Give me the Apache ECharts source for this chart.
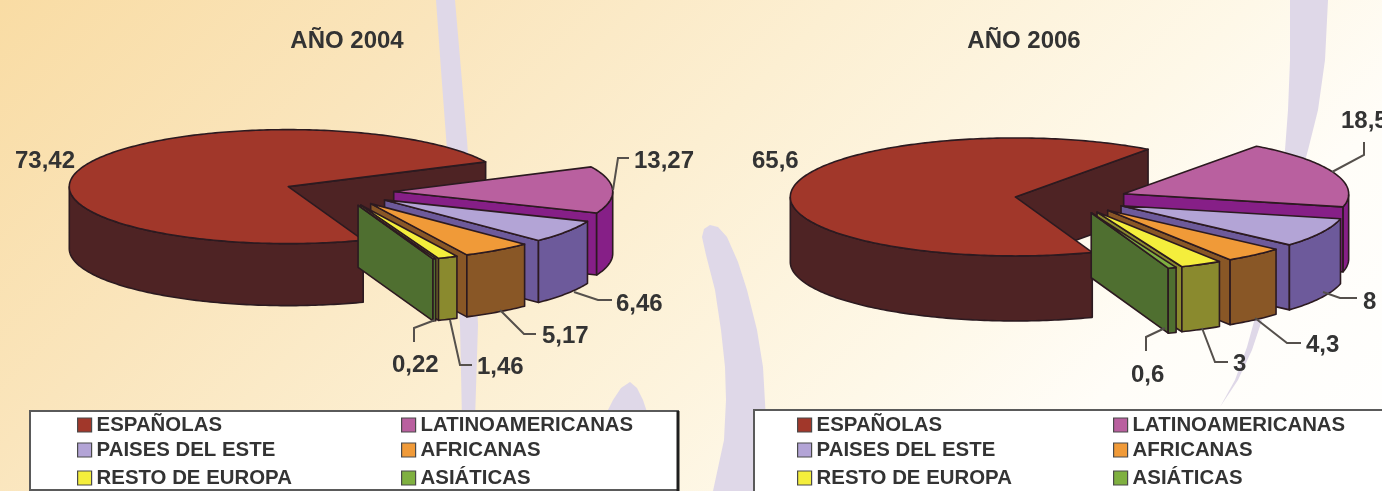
<!DOCTYPE html>
<html>
<head>
<meta charset="utf-8">
<title>Año 2004 / Año 2006</title>
<style>
  html, body { margin: 0; padding: 0; background: #fff; }
  #main { width: 1382px; height: 491px; }
</style>
<script src="https://cdn.jsdelivr.net/npm/echarts@6/dist/echarts.min.js"></script>
</head>
<body>
<div id="main"></div>
<script>
const categories = ['ESPAÑOLAS', 'LATINOAMERICANAS', 'PAISES DEL ESTE', 'AFRICANAS', 'RESTO DE EUROPA', 'ASIÁTICAS'];
const values2004 = [73.42, 13.27, 6.46, 5.17, 1.46, 0.22];
const values2006 = [65.6, 18.5, 8, 4.3, 3, 0.6];

const topColors = ['#a1372a', '#b9609f', '#b3a4d6', '#f09a38', '#f4ee3c', '#7fb040'];
const wallColors = ['#4e2324', '#861f87', '#6d5a9b', '#895726', '#8a8a2e', '#4f6f30'];
const edgeColor = '#2c1a20';
const leaderColor = '#55504c';
const labelFont = 'bold 24px "Liberation Sans"';

// posicion de cada tarta y de sus etiquetas
const charts = [
  {
    title: 'AÑO 2004', titleX: 347, values: values2004,
    cx: 339, cy: 192, rx: 219, ry: 57, depth: 62, startAngle: -70,
    labels: [[15, 161], [634, 161], [616, 304], [542, 336], [477, 367], [392, 365]],
    leaders: [
      null,
      [[613, 190], [618, 158], [629, 158]],
      [[574, 292], [598, 300], [612, 300]],
      [[500, 310], [524, 334], [536, 334]],
      [[450, 320], [460, 365], [472, 365]],
      [[435, 320], [414, 328], [414, 342]]
    ],
    legendX: [77, 401], box: [30, 411, 648, 79]
  },
  {
    title: 'AÑO 2006', titleX: 1024, values: values2006,
    cx: 1071, cy: 199, rx: 225, ry: 59, depth: 65, startAngle: -70,
    labels: [[752, 161], [1341, 121], [1363, 302], [1306, 345], [1233, 364], [1131, 375]],
    leaders: [
      null,
      [[1332, 172], [1364, 155], [1364, 142]],
      [[1323, 292], [1340, 298], [1357, 298]],
      [[1255, 318], [1287, 343], [1301, 343]],
      [[1202, 328], [1215, 362], [1228, 362]],
      [[1165, 328], [1146, 337], [1146, 351]]
    ],
    legendX: [797, 1113], box: [754, 410, 640, 90]
  }
];
const explode = 0.25;
const legendRows = [425, 450, 478];

function rad(d) { return d * Math.PI / 180; }

function renderSlice(c, i) {
  return function (params, api) {
    // los angulos salen de los valores, en sentido horario
    let before = 0;
    for (let k = 0; k < i; k++) before += c.values[k];
    const v = api.value(0);
    const a0 = c.startAngle - before * 3.6;
    const a1 = a0 - v * 3.6;
    const mid = rad((a0 + a1) / 2);
    const ax = c.cx + explode * c.rx * Math.cos(mid);
    const ay = c.cy - explode * c.ry * Math.sin(mid);
    const pt = function (a, dz) {
      return [ax + c.rx * Math.cos(rad(a)), ay - c.ry * Math.sin(rad(a)) + dz];
    };
    const arc = [];
    const steps = Math.max(2, Math.ceil(a0 - a1));
    for (let s = 0; s <= steps; s++) arc.push(a0 + (a1 - a0) * s / steps);

    const children = [];
    const poly = function (points, fill) {
      children.push({
        type: 'polygon',
        shape: { points: points },
        style: { fill: fill, stroke: edgeColor, lineWidth: 1.6, lineJoin: 'round' }
      });
    };
    const radial = function (a) {
      poly([[ax, ay], pt(a, 0), pt(a, c.depth), [ax, ay + c.depth]], wallColors[i]);
    };
    if (Math.cos(rad(a1)) > 0) radial(a1);
    if (Math.cos(rad(a0)) < 0) radial(a0);

    const front = arc.filter(function (a) { return Math.sin(rad(a)) <= 0; });
    if (front.length > 1) {
      const up = front.map(function (a) { return pt(a, 0); });
      const down = front.map(function (a) { return pt(a, c.depth); }).reverse();
      poly(up.concat(down), wallColors[i]);
    }
    poly([[ax, ay]].concat(arc.map(function (a) { return pt(a, 0); })), topColors[i]);

    if (c.leaders[i]) {
      children.push({
        type: 'polyline',
        shape: { points: c.leaders[i] },
        style: { fill: null, stroke: leaderColor, lineWidth: 2 }
      });
    }
    children.push({
      type: 'text',
      style: {
        text: String(v).replace('.', ','),
        x: c.labels[i][0], y: c.labels[i][1],
        font: labelFont, fill: '#333333',
        align: 'left', verticalAlign: 'middle'
      }
    });
    return { type: 'group', children: children };
  };
}

const series = [];
const legends = [];
charts.forEach(function (c) {
  categories.forEach(function (name, i) {
    series.push({
      type: 'custom',
      name: name,
      coordinateSystem: 'none',
      silent: true,
      z: 2 + i,
      itemStyle: { color: topColors[i] },
      data: [[c.values[i]]],
      renderItem: renderSlice(c, i)
    });
    legends.push({
      data: [name],
      left: c.legendX[i % 2],
      top: legendRows[Math.floor(i / 2)] - 10,
      padding: 0,
      z: 20,
      icon: 'rect',
      itemWidth: 14,
      itemHeight: 14,
      selectedMode: false,
      itemStyle: { borderColor: '#4a4a4a', borderWidth: 1.2 },
      textStyle: { fontFamily: 'Liberation Sans', fontWeight: 'bold', fontSize: 20.4, color: '#333333', padding: 0 }
    });
  });
});

// fondo: degradado y trazos lilas
const swooshColor = '#dfd8e8';
const swooshes = [
  [[436, 0], [441, 70], [447, 150], [454, 240], [460, 325], [462, 420], [475, 420], [478, 325], [474, 240], [467, 140], [461, 70], [455, 0]],
  [[607, 412], [613, 400], [621, 388], [630, 382], [637, 388], [643, 400], [647, 412]],
  [[702, 237], [706, 255], [715, 290], [721, 330], [725, 367], [726, 400], [724, 440], [713, 491], [766, 491], [766, 420], [763, 367], [757, 330], [747, 290], [738, 262], [727, 237], [718, 227], [710, 225], [704, 229]],
  [[1290, 0], [1290, 60], [1288, 110], [1285, 150], [1255, 318], [1247, 347], [1235, 380], [1220, 407], [1238, 380], [1252, 350], [1262, 320], [1308, 150], [1318, 110], [1325, 60], [1328, 0]]
];
const graphics = [
  {
    type: 'rect',
    shape: { x: 0, y: 0, width: 1382, height: 491 },
    style: {
      fill: {
        type: 'linear', x: 0, y: 0, x2: 937, y2: 937, global: true,
        colorStops: [
          { offset: 0, color: '#f9dca4' },
          { offset: 0.24, color: '#fae5bc' },
          { offset: 0.45, color: '#fcefd2' },
          { offset: 0.67, color: '#fef8e8' },
          { offset: 0.8, color: '#fffdf8' },
          { offset: 1, color: '#ffffff' }
        ]
      }
    }
  }
];
swooshes.forEach(function (s) {
  graphics.push({ type: 'polygon', shape: { points: s }, style: { fill: swooshColor } });
});
charts.forEach(function (c) {
  graphics.push({
    type: 'rect',
    shape: { x: c.box[0], y: c.box[1], width: c.box[2], height: c.box[3] },
    style: { fill: '#ffffff', stroke: '#5a5a5a', lineWidth: 2 }
  });
  graphics.push({
    type: 'text',
    style: {
      text: c.title, x: c.titleX, y: 41,
      font: 'bold 24px "Liberation Sans"', fill: '#333333',
      align: 'center', verticalAlign: 'middle'
    }
  });
});
// sombra derecha del recuadro izquierdo
graphics.push({
  type: 'line',
  shape: { x1: 678, y1: 411, x2: 678, y2: 491 },
  style: { stroke: '#1e1e1e', lineWidth: 3 }
});

const myChart = echarts.init(document.getElementById('main'), null, { renderer: 'canvas' });
myChart.setOption({
  animation: false,
  backgroundColor: '#ffffff',
  tooltip: { show: false },
  graphic: graphics,
  legend: legends,
  series: series
});
</script>
</body>
</html>
